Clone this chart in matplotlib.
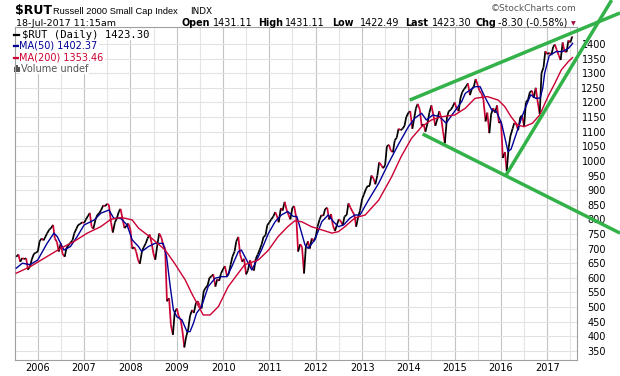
import numpy as np
import pandas as pd
import matplotlib
matplotlib.use('Agg')
import matplotlib.pyplot as plt
import matplotlib.dates as mdates
import matplotlib.ticker as mticker
from matplotlib.collections import LineCollection
from matplotlib.lines import Line2D
from matplotlib.patches import Rectangle

W, H = 620, 376

# --- data ---
# semi-monthly closes (1st and 15th of each month), Jul 2005 .. Jul 2017
close_2005 = [672, 680, 655, 668, 664, 667, 628, 640, 664, 682, 686]
close_2006 = [690, 725, 735, 728, 740, 752, 765, 770, 781, 735, 722, 690,
              718, 682, 672, 702, 712, 720, 728, 752, 768, 781, 784, 790]
close_2007 = [788, 800, 812, 822, 775, 768, 800, 815, 822, 832, 848, 845,
              853, 850, 790, 755, 790, 802, 826, 836, 800, 770, 778, 786]
close_2008 = [765, 700, 705, 690, 662, 648, 690, 705, 718, 735, 748, 722,
              682, 662, 715, 752, 738, 712, 700, 520, 530, 440, 405, 482]
close_2009 = [495, 470, 455, 415, 362, 398, 425, 470, 490, 480, 515, 520,
              505, 495, 555, 565, 575, 600, 605, 612, 570, 595, 590, 615]
close_2010 = [630, 640, 605, 615, 645, 672, 690, 725, 740, 680, 655, 665,
              612, 625, 660, 635, 625, 665, 680, 695, 715, 740, 745, 780]
close_2011 = [790, 800, 810, 825, 812, 790, 838, 830, 860, 835, 815, 800,
              840, 845, 805, 690, 715, 705, 615, 705, 725, 700, 735, 725]
close_2012 = [740, 775, 800, 815, 812, 835, 840, 800, 818, 780, 760, 780,
              800, 795, 780, 810, 815, 855, 840, 828, 815, 775, 810, 830]
close_2013 = [870, 885, 905, 915, 915, 950, 940, 920, 950, 995, 985, 975,
              985, 1050, 1055, 1035, 1030, 1070, 1080, 1110, 1105, 1110, 1120, 1150]
close_2014 = [1165, 1170, 1110, 1145, 1180, 1195, 1175, 1120, 1125, 1100, 1130, 1165,
              1190, 1160, 1120, 1140, 1170, 1150, 1100, 1060, 1150, 1170, 1175, 1185]
close_2015 = [1200, 1180, 1170, 1215, 1235, 1245, 1255, 1265, 1225, 1245, 1255, 1280,
              1260, 1240, 1230, 1210, 1135, 1165, 1095, 1160, 1180, 1165, 1190, 1130]
close_2016 = [1135, 1010, 1030, 965, 1045, 1085, 1110, 1130, 1125, 1105, 1150, 1155,
              1120, 1200, 1210, 1235, 1240, 1215, 1250, 1205, 1160, 1300, 1320, 1375]
close_2017 = [1365, 1370, 1362, 1390, 1398, 1380, 1360, 1345, 1405, 1375, 1372, 1412,
              1405, 1425]
last_date, last_close = '2017-07-18', 1423.30

ma50_dates = ['2005-07-15', '2005-09-01', '2005-11-01', '2005-12-31', '2006-03-15',
              '2006-05-08', '2006-06-03', '2006-07-26', '2006-09-15', '2006-11-07',
              '2007-01-01', '2007-03-22', '2007-05-12', '2007-07-16', '2007-08-22',
              '2007-10-15', '2007-12-05', '2008-01-15', '2008-03-05', '2008-03-30',
              '2008-05-22', '2008-07-12', '2008-09-15', '2008-10-12', '2008-11-10',
              '2008-12-05', '2009-01-01', '2009-02-10', '2009-03-22', '2009-04-15',
              '2009-05-12', '2009-06-05', '2009-07-15', '2009-09-05', '2009-10-30',
              '2009-12-20', '2010-01-30', '2010-03-10', '2010-05-01', '2010-05-25',
              '2010-07-05', '2010-08-15', '2010-09-10', '2010-10-30', '2010-12-25',
              '2011-02-15', '2011-04-05', '2011-05-25', '2011-07-08', '2011-08-05',
              '2011-09-12', '2011-10-08', '2011-11-02', '2011-12-25', '2012-02-18',
              '2012-04-08', '2012-05-20', '2012-06-28', '2012-08-08', '2012-09-26',
              '2012-11-05', '2012-12-15', '2013-02-20', '2013-05-12', '2013-07-28',
              '2013-10-12', '2014-01-01', '2014-02-20', '2014-04-15', '2014-05-22',
              '2014-07-12', '2014-09-05', '2014-10-25', '2014-12-20', '2015-02-25',
              '2015-03-25', '2015-06-10', '2015-07-20', '2015-08-25', '2015-10-20',
              '2015-11-25', '2016-01-05', '2016-02-25', '2016-03-20', '2016-05-01',
              '2016-06-10', '2016-07-15', '2016-08-22', '2016-10-01', '2016-11-05',
              '2016-11-25', '2016-12-10', '2017-01-15', '2017-03-10', '2017-05-01',
              '2017-06-15', '2017-07-10', '2017-07-18']
ma50_values = [633, 650, 645, 661, 718, 753, 741, 695, 707, 741,
               781, 798, 821, 832, 804, 804, 781, 730, 707, 690,
               707, 718, 718, 673, 570, 490, 467, 456, 416, 416,
               445, 479, 502, 570, 599, 604, 604, 638, 690, 695,
               661, 627, 649, 695, 753, 792, 815, 827, 810, 810,
               753, 713, 701, 730, 792, 815, 792, 775, 781, 804,
               815, 815, 866, 924, 992, 1055, 1117, 1146, 1163, 1140,
               1157, 1151, 1129, 1163, 1203, 1231, 1254, 1254, 1220, 1174,
               1169, 1129, 1032, 1040, 1094, 1146, 1186, 1226, 1214, 1215,
               1250, 1300, 1360, 1374, 1374, 1385, 1397, 1402.37]

ma200_dates = ['2005-07-15', '2005-11-01', '2006-03-15', '2006-07-01', '2006-10-12',
               '2007-01-26', '2007-05-12', '2007-07-30', '2007-10-15', '2007-11-20',
               '2008-01-15', '2008-03-05', '2008-06-18', '2008-10-01', '2008-12-15',
               '2009-03-08', '2009-04-28', '2009-06-22', '2009-07-28', '2009-09-20',
               '2009-11-25', '2010-02-10', '2010-04-20', '2010-06-20', '2010-10-05',
               '2010-12-25', '2011-03-10', '2011-05-25', '2011-07-20', '2011-09-12',
               '2011-11-28', '2012-02-18', '2012-05-08', '2012-06-28', '2012-08-18',
               '2012-11-05', '2013-01-25', '2013-05-12', '2013-08-22', '2013-11-05',
               '2014-01-25', '2014-04-15', '2014-07-01', '2014-09-20', '2015-01-01',
               '2015-03-25', '2015-06-10', '2015-09-15', '2015-12-10', '2016-01-30',
               '2016-03-20', '2016-05-10', '2016-07-01', '2016-09-05', '2016-11-01',
               '2017-01-05', '2017-03-01', '2017-04-20', '2017-06-15', '2017-07-18']
ma200_values = [616, 638, 673, 701, 724, 753, 775, 800, 806, 804,
                798, 770, 735, 695, 649, 593, 547, 502, 473, 473,
                502, 570, 610, 645, 661, 695, 741, 775, 795, 792,
                775, 764, 753, 758, 775, 805, 815, 866, 946, 1015,
                1077, 1117, 1140, 1151, 1157, 1180, 1214, 1220, 1208, 1186,
                1151, 1123, 1117, 1129, 1157, 1220, 1266, 1311, 1340, 1353.46]

# trend lines drawn on the chart (date, price) end points
upper_line = (['2014-01-11', '2018-07-27'], [1208, 1506])
lower_line = (['2014-04-23', '2018-07-27'], [1092, 753])
rising_line = (['2016-02-10', '2018-05-22'], [952, 1550])

price_ticks = list(range(350, 1401, 50))

# --- build series ---
closes = (close_2005 + close_2006 + close_2007 + close_2008 + close_2009 + close_2010 +
          close_2011 + close_2012 + close_2013 + close_2014 + close_2015 + close_2016 +
          close_2017)
dates = list(pd.date_range('2005-07-15', '2017-07-15', freq='SMS'))
dates.append(pd.Timestamp(last_date))
closes = closes + [last_close]
price = pd.Series(closes, index=pd.DatetimeIndex(dates))

xd = mdates.date2num(price.index.to_pydatetime())
yv = price.values
pts = np.column_stack([xd, yv])
segs = np.stack([pts[:-1], pts[1:]], axis=1)
seg_cols = ['#000000' if b >= a else '#cc0033' for a, b in zip(yv[:-1], yv[1:])]

fig = plt.figure(figsize=(W / 100, H / 100), dpi=100)
ax = fig.add_axes([15 / W, 1 - 360 / H, (577 - 15) / W, (360 - 27) / H])

ax.add_collection(LineCollection(segs, colors=seg_cols, linewidths=1.25, zorder=3))
ax.plot(pd.to_datetime(ma50_dates), ma50_values, color='#000099', lw=1.0, zorder=4)
ax.plot(pd.to_datetime(ma200_dates), ma200_values, color='#cc0033', lw=1.0, zorder=4)

for xs, ys in [upper_line, lower_line, rising_line]:
    ax.plot(pd.to_datetime(xs), ys, color='#33b249', lw=2.5, clip_on=False,
            solid_capstyle='butt', zorder=10)

ax.set_xlim(mdates.datestr2num('2005-07-05'), mdates.datestr2num('2017-08-22'))
ax.set_ylim(319, 1458)

ax.xaxis.set_major_locator(mdates.YearLocator())
ax.xaxis.set_major_formatter(mdates.DateFormatter('%Y'))
ax.xaxis.set_minor_locator(mdates.MonthLocator(bymonth=7))
ax.yaxis.set_major_locator(mticker.FixedLocator(price_ticks))
ax.yaxis.tick_right()

ax.grid(which='major', axis='x', color='#c4c4c4', lw=0.8)
ax.grid(which='minor', axis='x', color='#e4e4e4', lw=0.8)
ax.grid(which='major', axis='y', color='#e2e2e2', lw=0.8)
ax.set_axisbelow(True)

ax.tick_params(axis='both', which='both', length=0, labelsize=7, colors='#000000')
ax.tick_params(axis='x', pad=2.5)
ax.tick_params(axis='y', pad=21)
for lab in ax.get_yticklabels():
    lab.set_horizontalalignment('right')
for sp in ax.spines.values():
    sp.set_color('#a0a0a0')
    sp.set_linewidth(0.8)


def ft(x, y, s, **kw):
    fig.text(x / W, 1 - y / H, s, **kw)


# header
ft(15, 14, '$RUT', fontsize=9, fontweight='bold', family='DejaVu Sans', va='baseline')
ft(53, 13.5, 'Russell 2000 Small Cap Index', fontsize=6.7,
   family='Liberation Sans', va='baseline')
ft(190, 13.5, 'INDX', fontsize=6.4, family='DejaVu Sans', va='baseline')
ft(576, 11, '\u00a9StockCharts.com', fontsize=6.5, color='#555555', ha='right',
   family='DejaVu Sans', va='baseline')

ft(16, 25.5, '18-Jul-2017 11:15am', fontsize=6.8, family='DejaVu Sans', va='baseline')
hdr = [(182, 'Open', True), (213, '1431.11', False), (258, 'High', True),
       (285, '1431.11', False), (332, 'Low', True), (360, '1422.49', False),
       (405, 'Last', True), (432, '1423.30', False), (476, 'Chg', True),
       (498, '-8.30 (-0.58%)', False)]
for x, s, bold in hdr:
    ft(x, 25.5, s, fontsize=6.9, family='DejaVu Sans', va='baseline',
       fontweight='bold' if bold else 'normal')
ft(573, 25, '\u25bc', fontsize=4.5, color='#a0103a', ha='center', va='baseline',
   family='DejaVu Sans')

# legend block inside the chart
box = dict(facecolor='white', edgecolor='none', pad=0.6)
ft(21.5, 34.5, '$RUT (Daily) 1423.30', fontsize=7.6, family='DejaVu Sans Mono',
   va='center', bbox=box)
ft(19.5, 46, 'MA(50) 1402.37', fontsize=7.0, family='DejaVu Sans', color='#000099',
   va='center', bbox=box)
ft(19.5, 57.5, 'MA(200) 1353.46', fontsize=7.0, family='DejaVu Sans', color='#cc0033',
   va='center', bbox=box)
ft(21, 68.5, 'Volume undef', fontsize=7.0, family='DejaVu Sans', color='#555555',
   va='center', bbox=box)
for yy, col in [(34.5, '#000000'), (46, '#000099'), (57.5, '#cc0033')]:
    fig.add_artist(Line2D([13.5 / W, 18.5 / W], [1 - yy / H, 1 - yy / H],
                          color=col, lw=1.6, transform=fig.transFigure))
for bx, bh in [(14, 5), (16.2, 7), (18.4, 4.5)]:
    fig.add_artist(Rectangle((bx / W, 1 - 72 / H), 1.4 / W, bh / H,
                             facecolor='#555555', edgecolor='none',
                             transform=fig.transFigure))

fig.savefig('out.png', dpi=100)
